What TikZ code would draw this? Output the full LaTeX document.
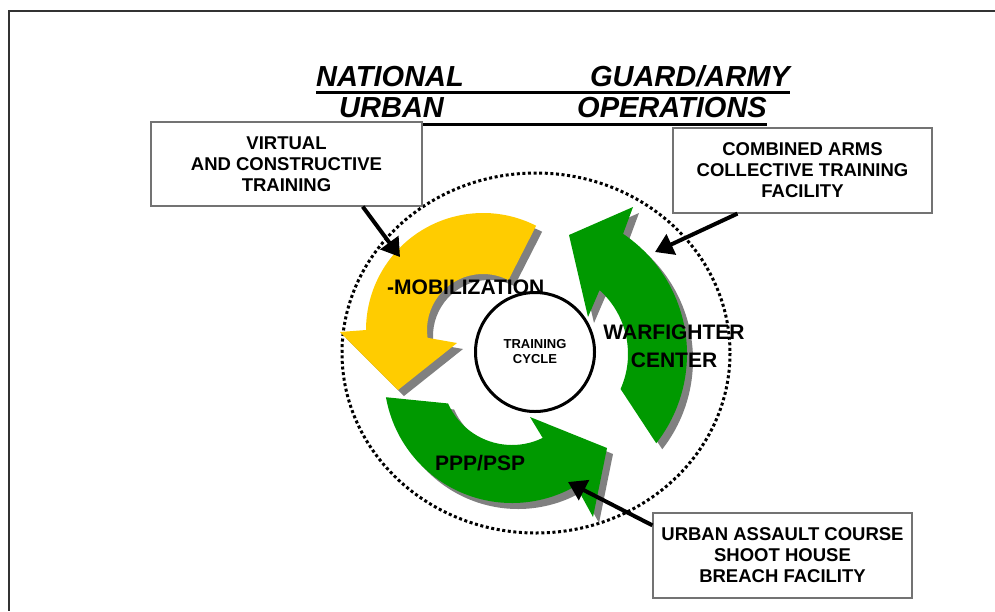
\documentclass[tikz,border=0pt]{standalone}
\usepackage{fontspec}
\setmainfont{Liberation Sans}
\usetikzlibrary{calc,arrows.meta}
\definecolor{mobyellow}{HTML}{FFCC00}
\definecolor{cyclegreen}{HTML}{009900}
\definecolor{shadowgray}{HTML}{808080}

% outlines of the three cycle arrows (pixel coordinates, y down)
\newcommand{\premobpath}{($(483,330)+(-63:117)$) arc[start angle=-63, end angle=-180, radius=117]
  -- (340,332) -- (398,390) -- (457,343)
  -- ($(483,330)+(172:56)$) arc[start angle=172, end angle=297, radius=56] -- cycle}
\newcommand{\warfpath}{($(542,354)+(38:145)$) arc[start angle=38, end angle=-56, radius=145]
  -- (633,207) -- (569,235) -- (588,317)
  -- ($(542,354)+(-48:86)$) arc[start angle=-48, end angle=24, radius=86] -- cycle}
\newcommand{\ppppath}{($(512,375)+(170:128)$) arc[start angle=170, end angle=60, radius=128]
  -- (593,517) -- (607,448) -- (530,417)
  -- ($(512,375)+(64:70)$) arc[start angle=64, end angle=156, radius=70] -- cycle}

\begin{document}
\begin{tikzpicture}[x=1pt, y=-1pt,
    callout/.style={draw=black!55, line width=1.2pt, fill=white, align=center, inner sep=0pt,
      font=\fontsize{18.5}{21}\selectfont\bfseries},
    lbl/.style={inner sep=0pt, font=\fontsize{21}{28}\selectfont\bfseries},
    ttl/.style={inner sep=0pt, font=\fontsize{29}{30}\selectfont\bfseries\itshape},
    pointer/.style={line width=4pt, -{Triangle[length=18pt, width=22pt]}}]
    \useasboundingbox (0,0) rectangle (995,611);
    \draw[line width=2pt, black!80] (995,11) -- (9,11) -- (9,611);

    % title
    \node[ttl, anchor=base west] (natl) at (316,86) {NATIONAL};
    \node[ttl, anchor=base east] (guard) at (790,86) {GUARD/ARMY};
    \node[ttl, anchor=base west] (urban) at (339,117) {URBAN};
    \node[ttl, anchor=base east] (oper) at (767,117) {OPERATIONS};
    \draw[line width=3pt] ([yshift=-6pt]natl.base west) -- ([yshift=-6pt]guard.base east);
    \draw[line width=3pt] ([yshift=-7pt]urban.base west) -- ([yshift=-7pt]oper.base east);

    \draw[line width=3pt, dash pattern=on 3pt off 2.6pt] (536,353) ellipse[x radius=194, y radius=180];

    \foreach \p/\c in {\premobpath/mobyellow, \warfpath/cyclegreen, \ppppath/cyclegreen}{
        \fill[shadowgray, shift={(6,6)}] \p;
        \fill[\c] \p;
    }

    \node[circle, draw, line width=3pt, fill=white, minimum size=119pt, inner sep=0pt, align=center,
      font=\fontsize{13}{15}\selectfont\bfseries] (cycle) at (535,352) {TRAINING\\CYCLE};

    \node[lbl, anchor=base west] (premob) at (387,294) {-MOBILIZATION};
    \node[lbl, anchor=north, align=center] (warf) at (674,325) {WARFIGHTER\\CENTER};
    \node[lbl, anchor=base west] (ppp) at (435,470) {PPP/PSP};

    % callouts
    \node[callout, minimum width=271pt, minimum height=84pt] (vbox) at (286.5,164) {VIRTUAL\\AND CONSTRUCTIVE\\TRAINING};
    \node[callout, minimum width=259pt, minimum height=85pt] (cbox) at (802.5,170.5) {COMBINED ARMS\\COLLECTIVE TRAINING\\FACILITY};
    \node[callout, minimum width=259pt, minimum height=85pt] (ubox) at (782.5,555.5) {URBAN ASSAULT COURSE\\SHOOT HOUSE\\BREACH FACILITY};

    \coordinate (pretip) at (400,257);
    \coordinate (warftip) at (655,252);
    \coordinate (ppptip) at (568,482);
    \draw[pointer] ($(vbox.south west)!0.78!(vbox.south east)$) -- (pretip);
    \draw[pointer] ($(cbox.south west)!0.25!(cbox.south east)$) -- (warftip);
    \draw[pointer] ($(ubox.north west)!0.15!(ubox.south west)$) -- (ppptip);
\end{tikzpicture}
\end{document}
